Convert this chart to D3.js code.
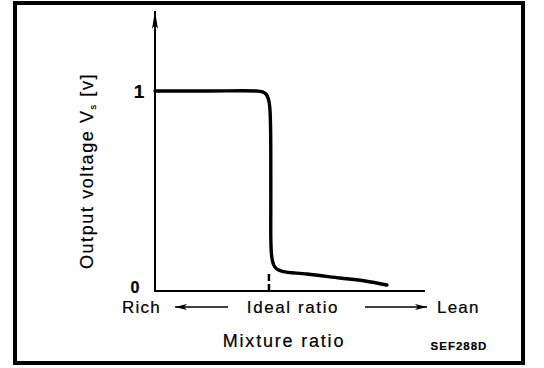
<!DOCTYPE html>
<html>
<head>
<meta charset="utf-8">
<script src="https://cdn.jsdelivr.net/npm/d3@7"></script>
<style>
  body { margin: 0; background: #fff; }
  text { font-family: "Liberation Sans", Arial, sans-serif; fill: #000; stroke: #000; stroke-width: 0.2px; }
</style>
</head>
<body>
<div id="chart"></div>
<script>
// mixture ratio position (0 = rich end, 1 = lean end of axis) vs output voltage
const mixture = [0, 0.2, 0.375, 0.398, 0.411, 0.42, 0.425, 0.428, 0.429, 0.429, 0.431, 0.435, 0.443, 0.456, 0.474, 0.563, 0.685, 0.778, 0.859];
const voltage = [1, 1, 1, 0.996, 0.985, 0.96, 0.92, 0.82, 0.5, 0.26, 0.19, 0.15, 0.122, 0.106, 0.097, 0.085, 0.065, 0.05, 0.03];
const idealRatio = 0.422;
const yTicks = [0, 1];
const axisTitleY = "Output voltage V";
const axisTitleX = "Mixture ratio";
const dirLabels = ["Rich", "Ideal ratio", "Lean"];
const figCode = "SEF288D";

const width = 544, height = 368;

const svg = d3.select("#chart").append("svg")
    .attr("width", width)
    .attr("height", height);

// --- frame ---
svg.append("rect")
    .attr("x", 15).attr("y", 3)
    .attr("width", 508).attr("height", 360)
    .attr("fill", "none")
    .attr("stroke", "#000")
    .attr("stroke-width", 4);

const x = d3.scaleLinear().domain([0, 1]).range([155, 425]);
const y = d3.scaleLinear().domain([0, 1]).range([291, 91]);

// --- arrowheads ---
const defs = svg.append("defs");
defs.append("marker")
    .attr("id", "head")
    .attr("viewBox", "0 0 12 6")
    .attr("refX", 12).attr("refY", 3)
    .attr("markerWidth", 12).attr("markerHeight", 6)
    .attr("markerUnits", "userSpaceOnUse")
    .attr("orient", "auto")
    .append("path")
    .attr("d", "M0,0 L12,3 L0,6 L3,3 Z")
    .attr("fill", "#000");

defs.append("marker")
    .attr("id", "yhead")
    .attr("viewBox", "0 0 18 6")
    .attr("refX", 18).attr("refY", 3)
    .attr("markerWidth", 18).attr("markerHeight", 6)
    .attr("markerUnits", "userSpaceOnUse")
    .attr("orient", "auto")
    .append("path")
    .attr("d", "M0,0 L18,3 L0,6 L4,3 Z")
    .attr("fill", "#000");

// --- axes ---
svg.append("line")
    .attr("x1", x(0)).attr("x2", x(0))
    .attr("y1", y(0) + 1).attr("y2", 11)
    .attr("stroke", "#000")
    .attr("stroke-width", 2)
    .attr("marker-end", "url(#yhead)");

svg.append("line")
    .attr("x1", x(0)).attr("x2", x(1))
    .attr("y1", y(0)).attr("y2", y(0))
    .attr("stroke", "#000")
    .attr("stroke-width", 2);

svg.selectAll(".ytick")
    .data(yTicks)
    .enter()
    .append("text")
    .attr("class", "ytick")
    .attr("x", d => x(0) - (d === 0 ? 20 : 16))
    .attr("y", d => y(d) + (d === 0 ? -4 : 0))
    .attr("dy", "0.35em")
    .attr("text-anchor", "middle")
    .style("font-size", d => d === 0 ? "16px" : "19px")
    .style("font-weight", "bold")
    .text(d => d);

// --- ideal ratio marker ---
svg.append("line")
    .attr("x1", x(idealRatio)).attr("x2", x(idealRatio))
    .attr("y1", y(0)).attr("y2", y(0.1))
    .attr("stroke", "#000")
    .attr("stroke-width", 2.5)
    .attr("stroke-dasharray", "7,3");

// --- curve ---
const pts = mixture.map((m, i) => [x(m), y(voltage[i])]);
svg.append("path")
    .attr("d", d3.line().curve(d3.curveCatmullRom.alpha(0.5))(pts))
    .attr("fill", "none")
    .attr("stroke", "#000")
    .attr("stroke-width", 3.4)
    .attr("stroke-linecap", "round")
    .attr("stroke-linejoin", "round");

// --- axis labels ---
const labelY = 313;
svg.append("text")
    .attr("x", 122).attr("y", labelY)
    .style("font-size", "17px")
    .style("letter-spacing", "1.2px")
    .text(dirLabels[0]);

svg.append("text")
    .attr("x", 293).attr("y", labelY)
    .attr("text-anchor", "middle")
    .style("font-size", "17px")
    .style("letter-spacing", "1.6px")
    .text(dirLabels[1]);

svg.append("text")
    .attr("x", 437).attr("y", labelY)
    .style("font-size", "17px")
    .style("letter-spacing", "1.2px")
    .text(dirLabels[2]);

svg.append("line")
    .attr("x1", 228).attr("x2", 175)
    .attr("y1", 307).attr("y2", 307)
    .attr("stroke", "#000").attr("stroke-width", 1.3)
    .attr("marker-end", "url(#head)");

svg.append("line")
    .attr("x1", 365).attr("x2", 427)
    .attr("y1", 307).attr("y2", 307)
    .attr("stroke", "#000").attr("stroke-width", 1.3)
    .attr("marker-end", "url(#head)");

svg.append("text")
    .attr("x", 284).attr("y", 347)
    .attr("text-anchor", "middle")
    .style("font-size", "18px")
    .style("letter-spacing", "1.8px")
    .text(axisTitleX);

svg.append("text")
    .attr("x", 459).attr("y", 350)
    .attr("text-anchor", "middle")
    .style("font-size", "11.5px")
    .style("font-weight", "bold")
    .style("letter-spacing", "1px")
    .text(figCode);

// --- y title ---
const yTitle = svg.append("text")
    .attr("transform", "translate(93,171) rotate(-90)")
    .attr("text-anchor", "middle")
    .style("font-size", "18px")
    .style("letter-spacing", "1.6px");
yTitle.append("tspan").text(axisTitleY);
yTitle.append("tspan")
    .attr("dy", 3)
    .style("font-size", "9px")
    .text("s");
yTitle.append("tspan")
    .attr("dy", -3)
    .text(" [v]");
</script>
</body>
</html>
